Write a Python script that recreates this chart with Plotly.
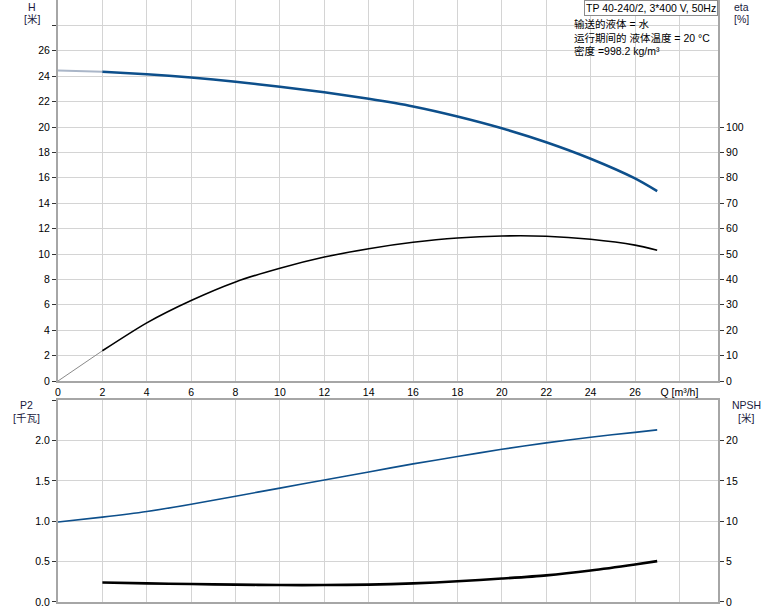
import plotly.graph_objects as go

# flow rate Q [m3/h]
q = [0, 2, 4, 6, 8, 10, 12, 14, 16, 18, 20, 22, 24, 26, 27]
# head H [m]
head = [24.45, 24.35, 24.15, 23.9, 23.57, 23.17, 22.73, 22.22, 21.62, 20.83, 19.9, 18.8, 17.5, 15.95, 14.95]
# efficiency eta [%]
eta = [0, 11.9, 22.9, 31.7, 39.0, 44.4, 48.8, 52.1, 54.6, 56.3, 57.1, 57.0, 55.8, 53.5, 51.5]
# shaft power P2 [kW]
p2 = [0.99, 1.05, 1.12, 1.21, 1.31, 1.41, 1.51, 1.61, 1.71, 1.80, 1.89, 1.97, 2.04, 2.10, 2.13]
# NPSH [m], from Q = 2
q_npsh = [2, 4, 6, 8, 10, 12, 14, 16, 18, 20, 22, 24, 26, 27]
npsh = [2.42, 2.3, 2.22, 2.15, 2.1, 2.1, 2.15, 2.3, 2.56, 2.9, 3.3, 3.9, 4.65, 5.06]

x_ticks = list(range(0, 30, 2))
x_labels = [str(v) for v in range(0, 28, 2)] + ["Q [m³/h]"]
h_ticks = list(range(0, 30, 2))
h_labels = [str(v) for v in range(0, 28, 2)] + [""]
eta_ticks = list(range(0, 110, 10))
p2_ticks = [0, 0.5, 1.0, 1.5, 2.0, 2.5]
p2_labels = ["0.0", "0.5", "1.0", "1.5", "2.0", ""]
npsh_ticks = [0, 5, 10, 15, 20]

BLUE = "#0d4f8b"
FONT = "Arial, Liberation Sans, Noto Sans CJK SC"
GRID = "#d4d4d4"
FRAME = "#a6a6a6"
SMOOTH = 0.7

fig = go.Figure()

# H curve: light part below Q=2, dark part above
fig.add_trace(go.Scatter(x=q[:2], y=head[:2], mode="lines",
                         line=dict(color="#aab6c8", width=2), xaxis="x", yaxis="y"))
fig.add_trace(go.Scatter(x=q[1:], y=head[1:], mode="lines",
                         line=dict(color=BLUE, width=2.5, shape="spline", smoothing=SMOOTH),
                         xaxis="x", yaxis="y"))
# eta curve
fig.add_trace(go.Scatter(x=q[:2], y=eta[:2], mode="lines",
                         line=dict(color="#8a8a8a", width=1), xaxis="x", yaxis="y2"))
fig.add_trace(go.Scatter(x=q[1:], y=eta[1:], mode="lines",
                         line=dict(color="black", width=1.6, shape="spline", smoothing=SMOOTH),
                         xaxis="x", yaxis="y2"))
# P2 curve
fig.add_trace(go.Scatter(x=q, y=p2, mode="lines",
                         line=dict(color=BLUE, width=1.6, shape="spline", smoothing=SMOOTH),
                         xaxis="x2", yaxis="y3"))
# NPSH curve
fig.add_trace(go.Scatter(x=q_npsh, y=npsh, mode="lines",
                         line=dict(color="black", width=2.6, shape="spline", smoothing=SMOOTH),
                         xaxis="x2", yaxis="y4"))

xcommon = dict(range=[0, 29.74], tickvals=x_ticks, showgrid=True, gridcolor=GRID,
               gridwidth=1.2, showline=True, linecolor=FRAME, linewidth=2, mirror=True,
               zeroline=False, ticks="", automargin=False,
               tickfont=dict(size=10.5, color="black"))
ycommon = dict(showgrid=True, gridcolor=GRID, gridwidth=1.2, showline=True,
               linecolor=FRAME, linewidth=2, zeroline=False, ticks="outside",
               ticklen=4, tickcolor="#333", automargin=False,
               tickfont=dict(size=10.5, color="black"))

fig.update_layout(
    width=774, height=611,
    margin=dict(l=58, r=56, t=0, b=9),
    paper_bgcolor="white", plot_bgcolor="white",
    showlegend=False,
    font=dict(family=FONT, size=10, color="black"),
    xaxis=dict(xcommon, anchor="y", domain=[0, 1], ticktext=x_labels),
    yaxis=dict(ycommon, domain=[0.3671, 1], range=[0, 30], tickvals=h_ticks,
               ticktext=h_labels, mirror=True),
    yaxis2=dict(ycommon, overlaying="y", side="right", range=[0, 150], anchor="x",
                tickvals=eta_ticks, showgrid=False),
    xaxis2=dict(xcommon, anchor="y3", domain=[0, 1], showticklabels=False),
    yaxis3=dict(ycommon, domain=[0, 0.3355], range=[0, 2.5], tickvals=p2_ticks,
                ticktext=p2_labels, anchor="x2", mirror=True),
    yaxis4=dict(ycommon, overlaying="y3", side="right", range=[0, 25], anchor="x2",
                tickvals=npsh_ticks, showgrid=False),
)

axis_titles = [
    ("H", 32, 7), ("[米]", 32, 19),
    ("eta", 741, 7), ("[%]", 741, 19),
    ("P2", 26, 405), ("[千瓦]", 26, 418),
    ("NPSH", 746, 405), ("[米]", 746, 418),
]
for txt, px, py in axis_titles:
    fig.add_annotation(text=txt, xref="paper", yref="paper",
                       x=(px - 58) / 660, y=(602 - py) / 602,
                       xanchor="center", yanchor="middle", showarrow=False,
                       font=dict(size=10.5, color="#1a1a40"))

fig.add_annotation(text="TP 40-240/2, 3*400 V, 50Hz", xref="paper", yref="paper",
                   x=1, y=1, xanchor="right", yanchor="top", showarrow=False,
                   bordercolor="#8c8c8c", borderwidth=1, borderpad=1,
                   bgcolor="white", font=dict(size=10.5, color="black"))

info_lines = ["输送的液体 = 水", "运行期间的 液体温度 = 20 °C", "密度 =998.2 kg/m³"]
for i, line in enumerate(info_lines):
    fig.add_annotation(text=line, xref="paper", yref="paper",
                       x=(572 - 58) / 660, y=(602 - (24 + 13.5 * i)) / 602,
                       xanchor="left", yanchor="middle", showarrow=False,
                       font=dict(size=10.5, color="black"))

# the page body has a default 8px margin; drop it so the figure sits at the corner
fig.write_html("out.html", config={"displayModeBar": False},
               post_script="document.body.style.margin='0px';")
